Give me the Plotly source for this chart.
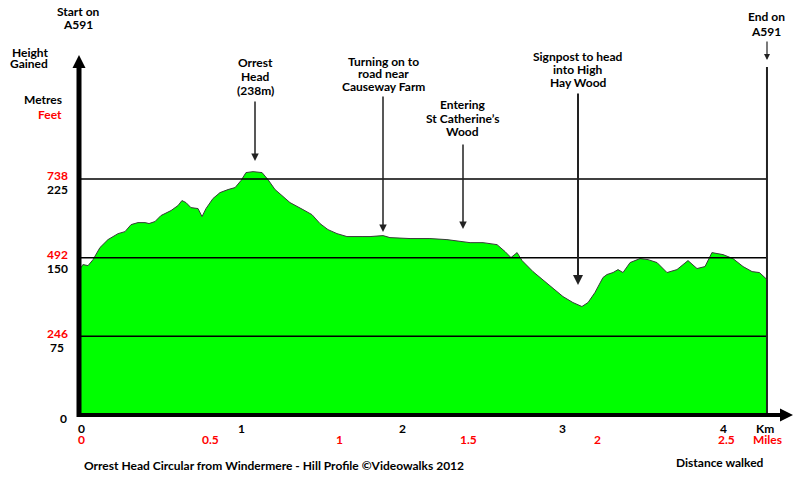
import plotly.graph_objects as go

# ---- data ----
distance_km = [0.000, 0.012, 0.044, 0.075, 0.118, 0.168, 0.231, 0.274, 0.312, 0.355,
               0.399, 0.424, 0.461, 0.498, 0.561, 0.604, 0.629, 0.654, 0.685, 0.729,
               0.754, 0.779, 0.822, 0.866, 0.916, 0.960, 0.997, 1.028, 1.072, 1.128,
               1.165, 1.209, 1.252, 1.302, 1.383, 1.439, 1.489, 1.539, 1.595, 1.657,
               1.751, 1.801, 1.882, 1.925, 2.050, 2.174, 2.280, 2.424, 2.505, 2.592,
               2.642, 2.679, 2.717, 2.748, 2.816, 2.891, 2.941, 3.003, 3.065, 3.121,
               3.159, 3.202, 3.252, 3.277, 3.315, 3.346, 3.377, 3.421, 3.483, 3.533,
               3.589, 3.651, 3.713, 3.782, 3.838, 3.888, 3.931, 4.000, 4.062, 4.125,
               4.181, 4.227, 4.274]
height_m = [140.5, 143.4, 142.4, 148.1, 159.6, 167.2, 172.9, 174.8, 181.5, 183.4,
            183.4, 182.5, 184.4, 190.1, 194.9, 199.6, 204.4, 202.5, 197.7, 196.8,
            189.1, 196.8, 206.3, 212.0, 214.9, 216.8, 223.5, 231.1, 232.0, 231.1,
            224.4, 214.9, 209.2, 202.5, 195.8, 191.0, 182.5, 176.7, 172.9, 170.1,
            170.1, 170.1, 171.0, 169.1, 168.2, 168.2, 167.2, 164.3, 164.3, 162.4,
            155.8, 150.1, 154.8, 147.2, 136.7, 127.2, 121.4, 112.9, 107.2, 103.4,
            107.2, 116.7, 131.0, 133.9, 135.8, 138.6, 135.8, 145.3, 149.1, 148.1,
            145.3, 135.8, 138.6, 147.2, 139.6, 141.5, 154.8, 152.9, 149.1, 141.5,
            136.7, 135.8, 129.1]

km_ticks = [0, 1, 2, 3, 4]
mile_ticks = [0, 0.5, 1, 1.5, 2, 2.5]
mile_labels = ["0", "0.5", "1", "1.5", "2", "2.5"]
metre_ticks = [75, 150, 225]

KM_PER_MILE = 1.609344
FT_PER_M = 3.28084

# ---- layout geometry (pixels) ----
W, H = 800, 480
ML, MR, MT, MB = 80, 10, 55, 65
PW, PH = W - ML - MR, H - MT - MB
X0_PX, PX_PER_KM = 81, 160.5
PX_PER_M = 1.049
x_range = [(ML - X0_PX) / PX_PER_KM, (W - MR - X0_PX) / PX_PER_KM]
y_range = [0, PH / PX_PER_M]

def xp(px):
    return (px - ML) / PW

def yp(py):
    return 1 - (py - MT) / PH

FONT = "Lato"

def label(text, px, py, color="black", xanchor="center", size=12):
    return dict(text=text, xref="paper", yref="paper", x=xp(px), y=yp(py),
                xanchor=xanchor, yanchor="middle", showarrow=False,
                font=dict(family=FONT, size=size, color=color, weight="bold"))

def lines(texts, px, py0, step, **kw):
    return [label(t, px, py0 + i * step, **kw) for i, t in enumerate(texts)]

def arrow(px, py_tail, py_head, width=1.5):
    kx = (px - X0_PX) / PX_PER_KM
    return dict(text="", x=kx, y=(MT + PH - py_head) / PX_PER_M, xref="x", yref="y",
                ax=kx, ay=(MT + PH - py_tail) / PX_PER_M, axref="x", ayref="y",
                showarrow=True, arrowhead=2, arrowsize=1, arrowwidth=width,
                arrowcolor="#222")

fig = go.Figure()
fig.add_trace(go.Scatter(x=distance_km, y=height_m, mode="lines", fill="tozeroy",
                         fillcolor="#00ff00", line=dict(color="#3a3a3a", width=1),
                         hoverinfo="skip", showlegend=False))

end_km = distance_km[-1]
shapes = []
# horizontal reference lines
for m in metre_ticks:
    shapes.append(dict(type="line", xref="x", yref="y", x0=x_range[0], x1=end_km,
                       y0=m, y1=m, line=dict(color="black", width=1.5), layer="above"))
# end vertical line
shapes.append(dict(type="line", xref="x", yref="paper", x0=end_km, x1=end_km,
                   y0=0, y1=yp(67), line=dict(color="#222", width=2), layer="above"))
# y axis line + arrow head
shapes.append(dict(type="line", xref="paper", yref="paper", x0=xp(79), x1=xp(79),
                   y0=yp(417), y1=yp(66), line=dict(color="black", width=5)))
shapes.append(dict(type="path", xref="paper", yref="paper",
                   path=f"M {xp(72.5)} {yp(68)} L {xp(79)} {yp(55)} L {xp(85.5)} {yp(68)} Z",
                   fillcolor="black", line=dict(color="black", width=0)))
# x axis line + arrow head
shapes.append(dict(type="line", xref="paper", yref="paper", x0=xp(77), x1=xp(782),
                   y0=yp(415), y1=yp(415), line=dict(color="black", width=4)))
shapes.append(dict(type="path", xref="paper", yref="paper",
                   path=f"M {xp(780)} {yp(408.5)} L {xp(793)} {yp(415)} L {xp(780)} {yp(421.5)} Z",
                   fillcolor="black", line=dict(color="black", width=0)))

ann = []
# axis titles
ann += [label("Height", 10, 52, xanchor="left"), label("Gained", 8, 63, xanchor="left"),
        label("Metres", 64, 99, xanchor="right"),
        label("Feet", 64, 115, color="red", xanchor="right")]
# y tick labels (metres black, feet red)
for m in metre_ticks:
    py = MT + PH - m * PX_PER_M
    ann.append(label(f"{round(m * FT_PER_M)}", 57, py - 3, color="red"))
    ann.append(label(f"{m}", 57, py + 11))
ann.append(label("0", 63, 418))
# x tick labels
for k in km_ticks:
    ann.append(dict(text=str(k), x=k, xref="x", y=yp(428), yref="paper", showarrow=False,
                    xanchor="center", yanchor="middle",
                    font=dict(family=FONT, size=12, color="black", weight="bold")))
for mi, lab in zip(mile_ticks, mile_labels):
    ann.append(dict(text=lab, x=mi * KM_PER_MILE, xref="x", y=yp(439), yref="paper",
                    showarrow=False, xanchor="center", yanchor="middle",
                    font=dict(family=FONT, size=12, color="red", weight="bold")))
ann += [label("Km", 765, 428), label("Miles", 767, 439, color="red"),
        label("Distance walked", 720, 462),
        label("Orrest Head Circular from Windermere - Hill Profile ©Videowalks 2012", 82, 465,
              xanchor="left")]
# landmarks
ann += lines(["Start on", "A591"], 78, 11, 13.5)
ann.append(arrow(78, 33, 53, 1.2))
ann += lines(["End on", "A591"], 766, 17, 14)
ann.append(arrow(767, 40, 60, 1.2))
ann += lines(["Orrest", "Head", "(238m)"], 255, 62, 14)
ann.append(arrow(255, 100, 161))
ann += lines(["Turning on to", "road near", "Causeway Farm"], 383, 61, 12.5)
ann.append(arrow(383, 95, 232))
ann += lines(["Entering", "St Catherine\u2019s", "Wood"], 463, 105, 13)
ann.append(arrow(463, 143, 229))
ann += lines(["Signpost to head", "into High", "Hay Wood"], 578, 57, 13)
ann.append(arrow(578, 92, 285, 2))

fig.update_layout(
    width=W, height=H, margin=dict(l=ML, r=MR, t=MT, b=MB),
    paper_bgcolor="white", plot_bgcolor="white",
    xaxis=dict(range=x_range, visible=False, fixedrange=True),
    yaxis=dict(range=y_range, visible=False, fixedrange=True),
    shapes=shapes, annotations=ann, showlegend=False,
)

fig.write_html("out.html")
